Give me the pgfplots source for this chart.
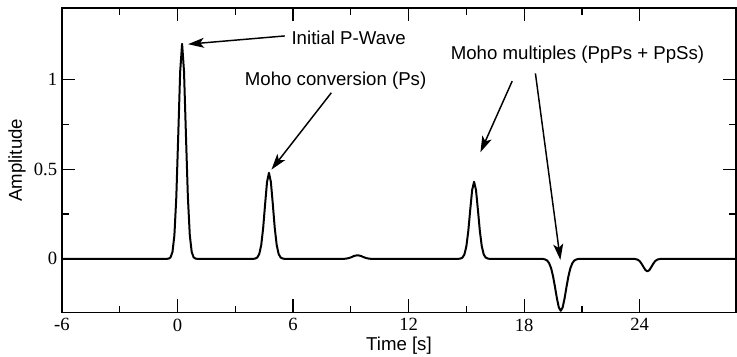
\documentclass[border=0pt]{standalone}
\usepackage{fontspec}
\setmainfont{Liberation Sans}
\newfontfamily\tickfont{Liberation Serif}
\usepackage{pgfplots}
\pgfplotsset{compat=1.18}
\usetikzlibrary{arrows.meta}
\begin{document}
\begin{tikzpicture}
\begin{axis}[
  at={(0,0)}, anchor=south west,
  scale only axis,
  width=506.25pt, height=228.75pt,
  xmin=-6, xmax=29, ymin=-0.3, ymax=1.4,
  xtick={-6,0,6,12,18,24},
  ytick={0,0.5,1},
  yticklabels={0,0.5,1},
  minor x tick num=1,
  minor y tick num=1,
  tick align=inside,
  major tick length=10pt,
  minor tick length=5pt,
  every tick/.style={black, line width=0.9pt},
  axis line style={black, line width=1pt},
  /pgf/number format/assume math mode=true,
  ticklabel style={font=\tickfont\fontsize{14}{16}\selectfont},
  xticklabel style={yshift=-1pt},
  xlabel={Time [s]},
  ylabel={Amplitude},
  label style={font=\fontsize{14}{16}\selectfont},
  xlabel style={at={(axis description cs:0.5,0)}, anchor=center, yshift=-25pt},
  ylabel style={at={(axis description cs:-0.0667,0.5)}, anchor=center},
  clip=false,
]
\addplot[black, line width=1.5pt, line join=round] coordinates {
(-6,0) (-0.56,0) (-0.46,0.001) (-0.36,0.008) (-0.26,0.038) (-0.16,0.131) (-0.06,0.345) (0.04,0.690) (0.14,1.045) (0.24,1.2) (0.34,1.045) (0.44,0.690) (0.54,0.345) (0.64,0.131) (0.74,0.038) (0.84,0.008) (0.94,0.001) (1.04,0)
(3.95,0) (4.05,0.002) (4.15,0.008) (4.25,0.028) (4.35,0.078) (4.45,0.173) (4.55,0.305) (4.65,0.429) (4.75,0.48) (4.85,0.429) (4.95,0.305) (5.05,0.173) (5.15,0.078) (5.25,0.028) (5.35,0.008) (5.45,0.002) (5.55,0)
(8.65,0) (8.75,0.001) (8.85,0.003) (8.95,0.006) (9.05,0.010) (9.15,0.015) (9.25,0.018) (9.35,0.02) (9.45,0.018) (9.55,0.015) (9.65,0.010) (9.75,0.006) (9.85,0.003) (9.95,0.001) (10.05,0)
(14.6,0) (14.7,0.002) (14.8,0.007) (14.9,0.025) (15.0,0.070) (15.1,0.155) (15.2,0.273) (15.3,0.384) (15.4,0.43) (15.5,0.384) (15.6,0.273) (15.7,0.155) (15.8,0.070) (15.9,0.025) (16.0,0.007) (16.1,0.002) (16.2,0)
(18.9,0) (19.0,-0.001) (19.1,-0.004) (19.2,-0.010) (19.3,-0.025) (19.4,-0.052) (19.5,-0.097) (19.6,-0.156) (19.7,-0.220) (19.8,-0.271) (19.9,-0.29) (20.0,-0.271) (20.1,-0.220) (20.2,-0.156) (20.3,-0.097) (20.4,-0.052) (20.5,-0.025) (20.6,-0.010) (20.7,-0.004) (20.8,-0.001) (20.9,0)
(23.7,0) (23.8,-0.002) (23.9,-0.005) (24.0,-0.013) (24.1,-0.028) (24.2,-0.046) (24.3,-0.063) (24.4,-0.07) (24.5,-0.063) (24.6,-0.046) (24.7,-0.028) (24.8,-0.013) (24.9,-0.005) (25.0,-0.002) (25.1,0) (29,0)
};
\begin{scope}[font=\fontsize{14}{16}\selectfont]
\node[anchor=west, inner sep=0pt] at (axis cs:5.91,1.235) {Initial P-Wave};
\node[anchor=west, inner sep=0pt] at (axis cs:3.49,0.992) {Moho conversion (Ps)};
\node[anchor=west, inner sep=0pt] at (axis cs:14.18,1.142) {Moho multiples (PpPs + PpSs)};
\end{scope}
\begin{scope}[line width=1.1pt, -{Stealth[length=12pt,width=7.5pt,inset=3pt]}]
\draw (axis cs:5.57,1.244) -- (axis cs:0.55,1.198);
\draw (axis cs:7.99,0.927) -- (axis cs:4.88,0.498);
\draw (axis cs:17.38,0.992) -- (axis cs:15.73,0.595);
\draw (axis cs:18.585,1.035) -- (axis cs:19.88,-0.006);
\end{scope}
\end{axis}
\pgfresetboundingbox
\useasboundingbox (-46.5pt,-33pt) rectangle (507pt,234.75pt);
\end{tikzpicture}
\end{document}
